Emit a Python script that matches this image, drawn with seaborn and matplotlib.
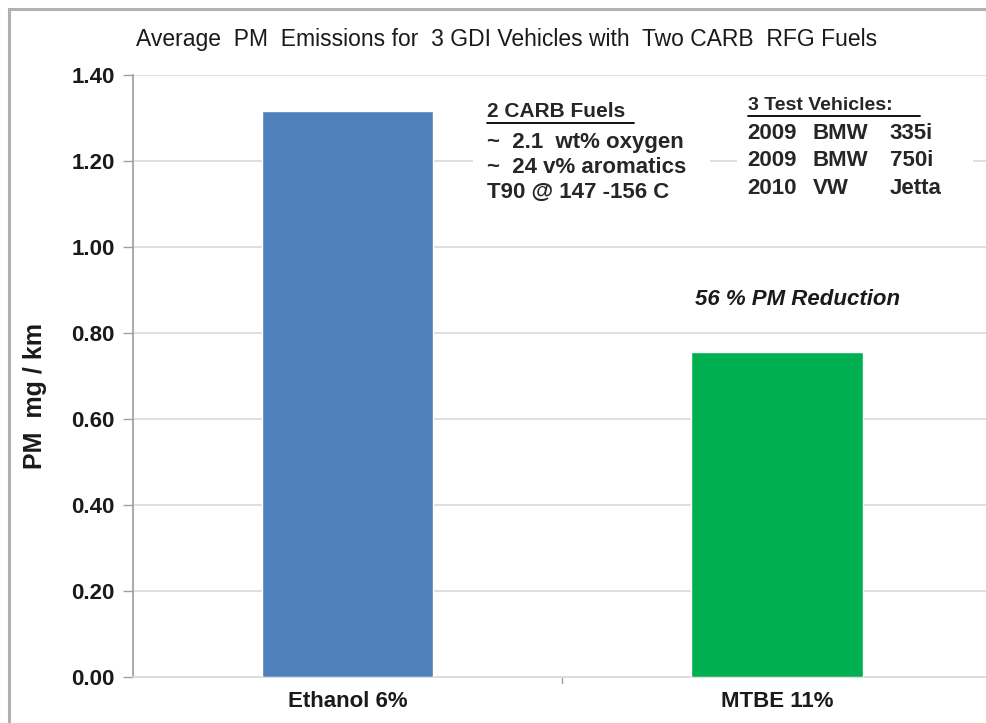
import matplotlib
matplotlib.use("Agg")
import matplotlib.pyplot as plt
import seaborn as sns
import pandas as pd
from matplotlib.patches import Rectangle

# values
fuels = ["Ethanol 6%", "MTBE 11%"]
pm_mg_km = [1.316, 0.756]
bar_colors = ["#4f81bd", "#00b050"]
y_ticks = [0.0, 0.2, 0.4, 0.6, 0.8, 1.0, 1.2, 1.4]

fuel_notes = ["~  2.1  wt% oxygen", "~  24 v% aromatics", "T90 @ 147 -156 C"]
vehicles = ["2009", "2009", "2010"]
makes = ["BMW", "BMW", "VW"]
models = ["335i", "750i", "Jetta"]

df = pd.DataFrame({"fuel": fuels, "pm": pm_mg_km})

sns.set_theme(style="white")
plt.rcParams["font.family"] = ["Liberation Sans", "DejaVu Sans"]

fig = plt.figure(figsize=(9.87, 7.23), dpi=100)
ax = fig.add_axes([0.1348, 0.0636, 0.8697, 0.8327])

sns.barplot(data=df, x="fuel", y="pm", hue="fuel", palette=bar_colors,
            saturation=1, width=0.4, legend=False, ax=ax, zorder=3)

ax.set_ylim(0, 1.4)
ax.set_xlim(-0.5, 1.5)
ax.set_yticks(y_ticks)
ax.set_yticklabels([f"{v:.2f}" for v in y_ticks], fontsize=16, fontweight="bold",
                   color="#1a1a1a")
ax.yaxis.grid(True, color="#d9d9d9", linewidth=1.2, zorder=0)
ax.tick_params(axis="y", length=7, width=1, color="#a0a0a0", pad=6, left=True)
ax.set_xticks([0, 1])
ax.set_xticklabels(fuels, fontsize=16, fontweight="bold", color="#1a1a1a")
ax.tick_params(axis="x", length=0, pad=10)
ax.set_xlabel("")
ax.set_ylabel("PM  mg / km", fontsize=18, fontweight="bold", color="#1a1a1a")
ax.yaxis.set_label_coords(-0.100, 0.467)

for side in ["top", "right"]:
    ax.spines[side].set_visible(False)
ax.spines["left"].set_color("#a0a0a0")
ax.spines["bottom"].set_color("#d9d9d9")
ax.spines["bottom"].set_linewidth(1.2)
# category separator tick on the bottom axis
ax.plot([0.5, 0.5], [0, -0.014], color="#a0a0a0", lw=1, clip_on=False)

fig.text(0.513, 0.945, "Average  PM  Emissions for  3 GDI Vehicles with  Two CARB  RFG Fuels",
         ha="center", va="center", fontsize=16.5, color="#1a1a1a")

# white patches behind the note blocks (they hide the 1.20 gridline)
ax.add_patch(Rectangle((0.291, 1.10), 0.553, 0.24, facecolor="white",
                       edgecolor="none", zorder=2))
ax.add_patch(Rectangle((0.907, 1.10), 0.55, 0.24, facecolor="white",
                       edgecolor="none", zorder=2))

# fuel notes block
ax.text(0.324, 1.314, "2 CARB Fuels", fontsize=15, fontweight="bold",
        ha="left", va="center", zorder=5)
ax.plot([0.324, 0.667], [1.288, 1.288], color="black", lw=1.3, zorder=5)
for i, line in enumerate(fuel_notes):
    ax.text(0.324, 1.244 - i * 0.058, line, fontsize=16, fontweight="bold",
            ha="left", va="center", zorder=5)

# test vehicles block
ax.text(0.932, 1.330, "3 Test Vehicles:", fontsize=14, fontweight="bold",
        ha="left", va="center", zorder=5)
ax.plot([0.932, 1.333], [1.305, 1.305], color="black", lw=1.3, zorder=5)
for i, (yr, mk, md) in enumerate(zip(vehicles, makes, models)):
    yv = 1.265 - i * 0.064
    ax.text(0.932, yv, yr, fontsize=16, fontweight="bold", ha="left", va="center", zorder=5)
    ax.text(1.084, yv, mk, fontsize=16, fontweight="bold", ha="left", va="center", zorder=5)
    ax.text(1.263, yv, md, fontsize=16, fontweight="bold", ha="left", va="center", zorder=5)

ax.text(1.049, 0.877, "56 % PM Reduction", fontsize=16, fontweight="bold",
        style="italic", ha="center", va="center", color="#1a1a1a")

# outer chart frame
fig.patches.append(Rectangle((0.009, -0.1), 1.2, 1.088, transform=fig.transFigure,
                             fill=False, edgecolor="#b0b0b0", linewidth=2.2))

fig.savefig("out.png", dpi=100)
